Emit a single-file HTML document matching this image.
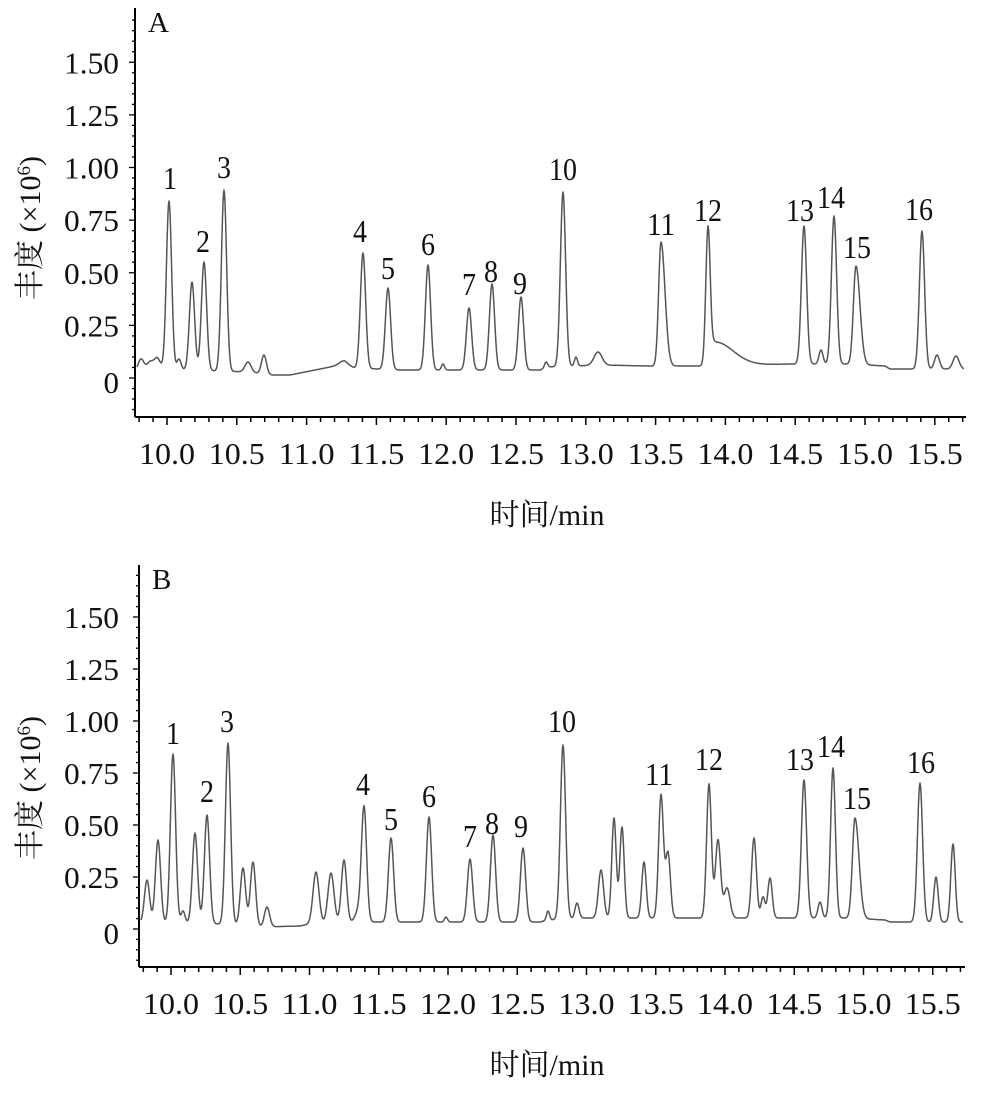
<!DOCTYPE html>
<html><head><meta charset="utf-8">
<style>
html,body{margin:0;padding:0;background:#fff;}
svg{display:block;}
text{font-family:"Liberation Serif","Noto Serif CJK SC","Noto Sans CJK SC",serif;fill:#111;}
.t{font-size:31px;}
.p{font-size:32px;}
</style></head>
<body>
<svg id="s" width="996" height="1101" viewBox="0 0 996 1101" xmlns="http://www.w3.org/2000/svg">
<rect width="996" height="1101" fill="#fff"/>
<g id="g"></g>
</svg>
<script>
var NS="http://www.w3.org/2000/svg",G=document.getElementById("g");
function el(n,a,t){var e=document.createElementNS(NS,n);for(var k in a)e.setAttribute(k,a[k]);if(t!==undefined)e.textContent=t;G.appendChild(e);return e;}
function panel(o){
  el("line",{x1:o.ax,y1:o.top,x2:o.ax,y2:o.xy,stroke:"#000","stroke-width":2});
  el("line",{x1:o.ax,y1:o.xy,x2:o.right,y2:o.xy,stroke:"#000","stroke-width":2});
  for(var i=-2;i<=58;i++){var t=10+i*0.1;var x=o.x0+(t-10)*o.sx;if(x<o.ax+2||x>o.right)continue;
    var maj=(i%5==0);el("line",{x1:x,y1:o.xy,x2:x,y2:o.xy+(maj?8:5),stroke:"#000","stroke-width":1.5});
    if(maj){el("text",{x:x,y:o.xy+47,"text-anchor":"middle","class":"t",textLength:56,lengthAdjust:"spacingAndGlyphs"},(10+i*0.1).toFixed(1));}}
  for(var j=-3;j<=34;j++){var v=j*0.05;var y=o.y0-v*o.sy;if(y<o.top+2||y>o.xy-2)continue;
    var mj=(j%5==0&&j>=0&&j<=30);el("line",{x1:o.ax,y1:y,x2:o.ax-(mj?6:3),y2:y,stroke:"#000","stroke-width":1.3});
    if(mj){if(j==0)el("text",{x:119,y:y+15,"text-anchor":"end","class":"t"},"0");
      else el("text",{x:119,y:y+11,"text-anchor":"end","class":"t",textLength:55,lengthAdjust:"spacingAndGlyphs"},v.toFixed(2));}}
  el("text",{x:o.ax+13,y:o.top+24,"font-size":"29px"},o.letter);
  el("text",{x:547,y:o.xy+108,"text-anchor":"middle","font-size":"30px"},"时间/min");
  var yt=el("text",{x:0,y:0,"text-anchor":"middle","font-size":"30px",transform:"translate(40,"+o.yc+") rotate(-90)"});
  yt.innerHTML='丰度 (×10<tspan dy="-10" font-size="19">6</tspan><tspan dy="10">)</tspan>';
  var d="";
  for(var x=o.ax+2;x<=o.right-2;x+=0.5){
    var b=interp(o.base,x),y=b;
    for(var k=0;k<o.pk.length;k++){var p=o.pk[k];var s=p[2]||2.6;var a=interp(o.base,p[0])-p[1];var dx=x-p[0];
      if(p[3]&&dx>0)s=p[3];
      y-=a*Math.exp(-dx*dx/(2*s*s));}
    d+=(d?"L":"M")+x.toFixed(1)+" "+y.toFixed(1);
  }
  el("path",{d:d,fill:"none",stroke:"#555","stroke-width":1.5,"stroke-linejoin":"round"});
  for(var m=0;m<o.lab.length;m++){var L=o.lab[m];el("text",{x:L[1],y:L[2]+2,"text-anchor":"middle","class":"p",textLength:(L[0].length*14),lengthAdjust:"spacingAndGlyphs"},L[0]);}
}
function interp(pts,x){if(x<=pts[0][0])return pts[0][1];for(var i=1;i<pts.length;i++){if(x<=pts[i][0]){var a=pts[i-1],b=pts[i];return a[1]+(b[1]-a[1])*(x-a[0])/(b[0]-a[0]);}}return pts[pts.length-1][1];}

panel({ax:135,top:8,xy:417,right:966,x0:167,sx:139.6,y0:378,sy:210.5,letter:"A",yc:228,
 base:[[137,372],[160,369],[250,372],[268,375],[290,375],[320,369],[345,364],[355,368],[400,370],[540,370],[548,367],[600,365],[650,366],[700,366],[740,365],[790,364],[850,364],[885,366],[890,369],[960,369]],
 pk:[[141,359,3],[150,362,3],[157,358,3],[169,201],[179,359,2],[192,282],[204,262],[224,190],[248,362,3],[264,355,2.5],[343,361,4],[363,253],[388,288],[428,265],[443,364,1.5],[469,308],[492,284],[521,297],[546,362,1.5],[563,192],[576,357,1.5],[598,352,4],[661,242,2.4,4],[708,231,2.2],[715,342,4,18],[804,226],[821,350,2],[834,216],[856,266,2.6,4],[922,231],[937,355,2.5],[956,356,3]],
 lab:[["1",170,187],["2",203,250],["3",224,176],["4",360,240],["5",388,277],["6",428,253],["7",469,293],["8",491,280],["9",520,292],["10",563,178],["11",661,233],["12",708,219],["13",800,219],["14",831,206],["15",857,256],["16",919,218]]});

panel({ax:139,top:565,xy:967,right:965,x0:171,sx:138.5,y0:929,sy:208,letter:"B",yc:788,
 base:[[141,923],[200,923],[240,925],[262,927],[300,926],[310,924],[350,922],[450,922],[540,922],[548,920],[580,918],[700,918],[850,918],[885,920],[890,922],[960,922]],
 pk:[[147,880],[158,840],[173,754],[183,911,2],[195,833],[207,815],[228,743],[243,868],[253,862],[267,907],[316,872,3],[331,873,3],[344,860,2.6],[358,912,3],[364,807],[391,838],[429,817],[446,917,1.5],[470,859],[493,835],[523,848],[548,911,1.5],[563,745],[577,903,2],[601,870],[614,818,2.2],[622,827,2.2],[644,862,2.2],[661,795,2.4],[668,853,2.4],[709,784,2.4],[718,840,2.6],[727,888,3],[754,838,2.4],[763,897,2],[770,878,2.2],[804,780,2.6],[820,902,2],[833,768,2.4],[855,818,2.6,4],[920,783],[936,877,2.2],[953,844,2.2]],
 lab:[["1",173,742],["2",207,800],["3",227,730],["4",363,793],["5",391,828],["6",429,805],["7",470,845],["8",492,832],["9",521,835],["10",562,730],["11",659,783],["12",709,768],["13",800,768],["14",831,755],["15",857,807],["16",921,771]]});
</script>
</body></html>
